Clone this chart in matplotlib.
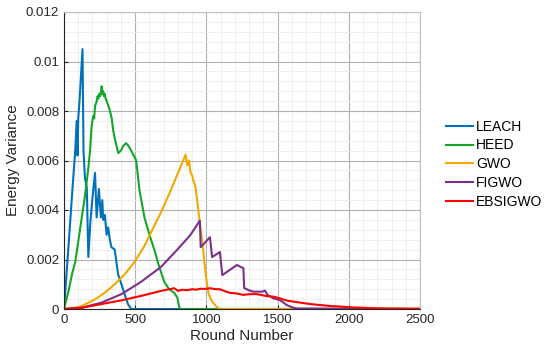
import matplotlib
matplotlib.use("Agg")
import matplotlib.pyplot as plt
from matplotlib.ticker import MultipleLocator

plt.rcParams['font.family'] = ['Liberation Sans', 'DejaVu Sans']

# ---- data ----
leach_x = [0, 30, 60, 79, 89, 95, 100, 110, 130, 137, 147, 160, 171, 185, 200, 218, 229, 245, 259,
           269, 275, 287, 299, 310, 322, 333, 356, 368, 380, 403, 426, 449, 472, 2500]
leach_y = [0, 0.0024, 0.0049, 0.0064, 0.0076, 0.0062, 0.0077, 0.0085, 0.0105, 0.0064, 0.0053,
           0.0049, 0.0021, 0.0035, 0.0045, 0.0055, 0.0037, 0.00485, 0.0037, 0.0044, 0.0036,
           0.0038, 0.0030, 0.0033, 0.0028, 0.0025, 0.0024, 0.0019, 0.0014, 0.0010, 0.0006,
           0.0002, 0.0, 0.0]

heed_x = [0, 32, 56, 79, 102, 125, 148, 171, 183, 194, 205, 212, 218, 230, 236, 241, 248, 255,
          260, 265, 270, 275, 280, 285, 292, 300, 312, 323, 335, 346, 360, 381, 400, 417, 435,
          452, 472, 507, 530, 565, 600, 634, 669, 704, 738, 773, 796, 808, 815, 2500]
heed_y = [0, 0.00073, 0.0014, 0.0019, 0.0028, 0.0037, 0.0046, 0.0057, 0.0064, 0.0074, 0.0078,
          0.0077, 0.0082, 0.0084, 0.0086, 0.0085, 0.0087, 0.0086, 0.0088, 0.0090, 0.0087, 0.0088,
          0.0086, 0.0087, 0.0085, 0.0084, 0.0082, 0.0080, 0.0077, 0.0072, 0.0068, 0.0063, 0.0064,
          0.0066, 0.0067, 0.0066, 0.0064, 0.0060, 0.0048, 0.0037, 0.0030, 0.0024, 0.0017, 0.0011,
          0.0008, 0.00066, 0.00046, 0.0001, 0.0, 0.0]

gwo_x = [0, 60, 125, 218, 287, 356, 426, 495, 565, 611, 681, 750, 808, 854, 866, 878, 889, 900,
         907, 915, 924, 935, 947, 958, 977, 993, 1005, 1016, 1040, 1070, 1095, 2500]
gwo_y = [0, 0.00003, 0.00012, 0.00039, 0.00066, 0.0010, 0.0014, 0.0019, 0.00255, 0.0031, 0.0039,
         0.0048, 0.0056, 0.00624, 0.0058, 0.0060, 0.0055, 0.0054, 0.0052, 0.0051, 0.0049, 0.0044,
         0.0038, 0.0033, 0.0024, 0.0015, 0.0010, 0.0006, 0.0003, 0.0001, 0.0, 0.0]

figwo_x = [0, 125, 264, 403, 542, 681, 796, 889, 954, 960, 1025, 1040, 1095, 1112, 1215, 1240,
           1260, 1265, 1300, 1330, 1390, 1411, 1430, 1470, 1517, 1564, 1610, 1640, 2500]
figwo_y = [0, 0.00005, 0.00026, 0.0006, 0.0011, 0.0017, 0.0024, 0.0030, 0.00357, 0.0025, 0.0029,
           0.0021, 0.0023, 0.00137, 0.00178, 0.0017, 0.00165, 0.00085, 0.00075, 0.0007, 0.0007,
           0.00074, 0.00057, 0.00043, 0.00036, 0.00016, 0.00005, 0.00002, 0.0]

ebs_x = [0, 125, 264, 403, 542, 681, 773, 785, 800, 830, 866, 900, 930, 958, 990, 1028, 1060,
         1095, 1130, 1166, 1213, 1259, 1306, 1353, 1400, 1423, 1470, 1517, 1564, 1610, 1657,
         1730, 1798, 1870, 1938, 2008, 2100, 2170, 2300, 2500]
ebs_y = [0, 0.00005, 0.0002, 0.00035, 0.00053, 0.00073, 0.00084, 0.0008, 0.00073, 0.00078,
         0.00076, 0.0008, 0.00078, 0.00082, 0.00081, 0.00084, 0.00080, 0.0008, 0.00072, 0.00065,
         0.00063, 0.00057, 0.0006, 0.0006, 0.00055, 0.00052, 0.0005, 0.00043, 0.00034, 0.0003,
         0.00026, 0.0002, 0.00016, 0.00012, 0.0001, 0.00007, 0.00005, 0.00003, 0.00002, 0.00001]

series = [("LEACH", leach_x, leach_y, "#0072BD"),
          ("HEED", heed_x, heed_y, "#13A62A"),
          ("GWO", gwo_x, gwo_y, "#F2A900"),
          ("FIGWO", figwo_x, figwo_y, "#7E2F8E"),
          ("EBSIGWO", ebs_x, ebs_y, "#FF0000")]

xticks = [0, 500, 1000, 1500, 2000, 2500]
yticks = [0, 0.002, 0.004, 0.006, 0.008, 0.010, 0.012]
yticklabels = ["0", "0.002", "0.004", "0.006", "0.008", "0.01", "0.012"]

# ---- figure ----
fig = plt.figure(figsize=(5.5, 3.55), dpi=100)
ax = fig.add_axes([64 / 550, 46 / 355, 356 / 550, 297 / 355])

for name, xs, ys, c in series:
    ax.plot(xs, ys, color=c, lw=1.5, label=name)

ax.set_xlim(0, 2500)
ax.set_ylim(0, 0.012)
ax.set_xticks(xticks)
ax.set_yticks(yticks)
ax.set_yticklabels(yticklabels)
ax.xaxis.set_minor_locator(MultipleLocator(100))
ax.yaxis.set_minor_locator(MultipleLocator(0.0004))
ax.grid(True, which='major', color='#b0b0b0', lw=0.8)
ax.grid(True, which='minor', color='#ececec', lw=0.6)
ax.set_axisbelow(True)
ax.tick_params(which='both', direction='in', labelsize=9.5, colors='#262626', length=3)
ax.tick_params(which='minor', length=0)
ax.tick_params(top=False, right=False)
for s in ['top', 'right']:
    ax.spines[s].set_color('#c0c0c0')
    ax.spines[s].set_linewidth(0.8)
for s in ['left', 'bottom']:
    ax.spines[s].set_color('#262626')
    ax.spines[s].set_linewidth(0.8)

ax.set_xlabel("Round Number", fontsize=11, color='#262626', labelpad=2)
ax.set_ylabel("Energy Variance", fontsize=11, color='#262626', labelpad=4)

fig.legend(loc='upper left', bbox_to_anchor=(440 / 550, 1 - 114 / 355), frameon=False,
           fontsize=10, handlelength=2.0, handletextpad=0.2, labelspacing=0.35,
           borderaxespad=0)

fig.savefig("out.png", dpi=100)
